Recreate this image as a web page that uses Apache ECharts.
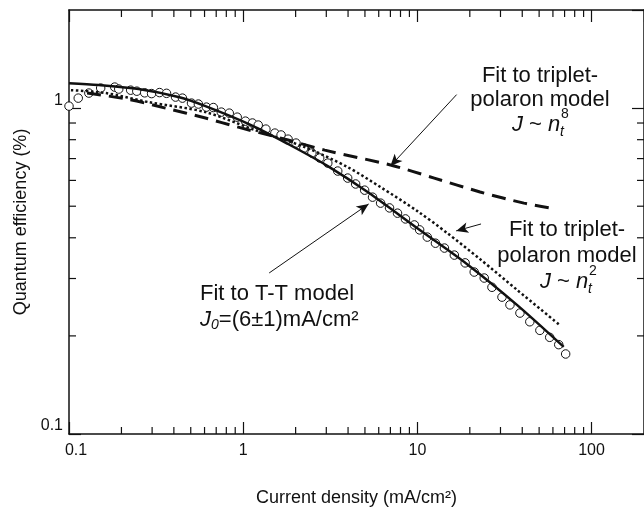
<!DOCTYPE html>
<html><head><meta charset="utf-8">
<script src="https://cdn.jsdelivr.net/npm/echarts@6/dist/echarts.min.js"></script>
<style>html,body{margin:0;padding:0;background:#fff}#c{width:644px;height:514px}</style>
</head><body><div id="c"></div>
<script>
// ---- data ----
const measuredJ = [0.1, 0.113, 0.130, 0.152, 0.183, 0.193, 0.226, 0.245, 0.272, 0.298, 0.331, 0.363, 0.409, 0.448, 0.505, 0.553, 0.615, 0.674, 0.749, 0.832, 0.924, 1.03, 1.13, 1.22, 1.35, 1.52, 1.65, 1.81, 2.01, 2.23, 2.48, 2.75, 3.06, 3.49, 3.98, 4.42, 4.98, 5.53, 6.15, 6.92, 7.69, 8.54, 9.61, 10.3, 11.4, 12.7, 14.3, 16.3, 18.8, 21.2, 24.2, 26.8, 30.6, 34.0, 38.8, 44.2, 50.5, 57.5, 64.8, 71.0];
const measuredEQE = [1.014, 1.073, 1.112, 1.152, 1.160, 1.144, 1.135, 1.127, 1.114, 1.108, 1.116, 1.110, 1.081, 1.073, 1.036, 1.029, 1.007, 1.004, 0.972, 0.965, 0.938, 0.912, 0.900, 0.887, 0.862, 0.838, 0.827, 0.803, 0.781, 0.754, 0.728, 0.703, 0.678, 0.641, 0.610, 0.585, 0.560, 0.533, 0.511, 0.494, 0.476, 0.457, 0.438, 0.423, 0.402, 0.385, 0.372, 0.354, 0.335, 0.314, 0.301, 0.282, 0.263, 0.249, 0.235, 0.221, 0.208, 0.198, 0.188, 0.176];

const ttFitJ   = [0.1, 0.148, 0.251, 0.425, 0.607, 1.11, 1.81, 3.06, 5.18, 10, 19.3, 37.3, 69.2];
const ttFitEQE = [1.193, 1.177, 1.144, 1.081, 1.014, 0.887, 0.776, 0.664, 0.553, 0.428, 0.332, 0.249, 0.185];

const n2FitJ   = [0.1026, 0.163, 0.287, 0.607, 1.17, 2.26, 3.98, 6.15, 10, 14.8, 22.9, 37.3, 65.6];
const n2FitEQE = [1.135, 1.112, 1.043, 0.972, 0.856, 0.759, 0.659, 0.572, 0.483, 0.414, 0.344, 0.277, 0.216];

const n8FitJ   = [0.127, 0.215, 0.358, 0.607, 0.936, 1.81, 2.94, 7.01, 12.5, 22.9, 40.9, 57.5];
const n8FitEQE = [1.112, 1.066, 1.0, 0.932, 0.874, 0.798, 0.743, 0.669, 0.610, 0.553, 0.511, 0.494];

const xRange = [0.1, 200];
const yRange = [0.1, 2];
const xMajorTicks = [0.1, 1, 10, 100];
const yMajorTicks = [0.1, 1];
const xMinorTicks = [0.2,0.3,0.4,0.5,0.6,0.7,0.8,0.9, 2,3,4,5,6,7,8,9, 20,30,40,50,60,70,80,90];
const yMinorTicks = [0.2,0.3,0.4,0.5,0.6,0.7,0.8,0.9];

// arrows: [start J, start EQE, end J, end EQE]
const arrowN8 = [16.8, 1.10, 7.0, 0.664];
const arrowN2 = [23.2, 0.441, 16.7, 0.420];
const arrowTT = [1.41, 0.312, 5.25, 0.508];

// ---- chart ----
const FONT = '"Liberation Sans", Arial, Helvetica, sans-serif';
const INK = '#111';
const chart = echarts.init(document.getElementById('c'), null, {renderer: 'canvas'});
const zip = (a, b) => a.map((v, i) => [v, b[i]]);
function isMajor(v, list) { return list.some(m => Math.abs(Math.log10(v) - Math.log10(m)) < 1e-6); }
function fmtX(v) {
  if (!isMajor(v, xMajorTicks)) return '';
  const s = String(+(+v).toPrecision(3));
  return Math.abs(v - xRange[0]) < 1e-9 ? '{first|' + s + '}' : s;
}
function fmtY(v) { return isMajor(v, yMajorTicks) ? String(+(+v).toPrecision(3)) : ''; }

const MINOR = 7;
function minorX(params, api) {
  const v = api.value(0);
  const b = api.coord([v, yRange[0]]), t = api.coord([v, yRange[1]]);
  const st = {stroke: INK, lineWidth: 1.2};
  return {type: 'group', children: [
    {type: 'line', shape: {x1: b[0], y1: b[1], x2: b[0], y2: b[1] - MINOR}, style: st},
    {type: 'line', shape: {x1: t[0], y1: t[1], x2: t[0], y2: t[1] + MINOR}, style: st}
  ]};
}
function minorY(params, api) {
  const v = api.value(1);
  const l = api.coord([xRange[0], v]), r = api.coord([xRange[1], v]);
  const st = {stroke: INK, lineWidth: 1.2};
  return {type: 'group', children: [
    {type: 'line', shape: {x1: l[0], y1: l[1], x2: l[0] + MINOR, y2: l[1]}, style: st},
    {type: 'line', shape: {x1: r[0], y1: r[1], x2: r[0] - MINOR, y2: r[1]}, style: st}
  ]};
}
function arrow(a) {
  return [{coord: [a[0], a[1]]}, {coord: [a[2], a[3]]}];
}

const axisCommon = {
  type: 'log', logBase: 10,
  axisLine: {show: true, lineStyle: {color: INK, width: 1.5}},
  axisTick: {show: true, inside: true, length: 12, lineStyle: {color: INK, width: 1.2}},
  splitLine: {show: false}, minorTick: {show: false}
};

const FS = 22;
const txt = (x, y, text, extra) => ({type: 'text', x, y, silent: true,
  style: Object.assign({text, fontSize: FS, fontFamily: FONT, fill: INK, align: 'center', verticalAlign: 'middle'}, extra || {})});
const italicRich = {i: {fontStyle: 'italic', fontSize: FS, fontFamily: FONT}};

chart.setOption({
  animation: false,
  backgroundColor: '#fff',
  grid: {left: 69, top: 10, width: 578, height: 424, containLabel: false},
  xAxis: [
    Object.assign({}, axisCommon, {min: xRange[0], max: xRange[1], position: 'bottom',
      axisLabel: {formatter: fmtX, fontSize: 16, color: INK, fontFamily: FONT, margin: 9, showMaxLabel: false,
        rich: {first: {fontSize: 16, fontFamily: FONT, color: INK, padding: [0, 0, 0, 14]}}},
      name: 'Current density (mA/cm²)', nameLocation: 'middle', nameGap: 55,
      nameTextStyle: {fontSize: 18, color: INK, fontFamily: FONT}}),
    Object.assign({}, axisCommon, {min: xRange[0], max: xRange[1], position: 'top', axisLabel: {show: false}})
  ],
  yAxis: [
    Object.assign({}, axisCommon, {min: yRange[0], max: yRange[1], position: 'left',
      axisLabel: {formatter: fmtY, fontSize: 16, color: INK, fontFamily: FONT, margin: 6, verticalAlign: 'bottom', showMaxLabel: false},
      name: 'Quantum efficiency (%)', nameLocation: 'middle', nameGap: 37, nameRotate: 90,
      nameTextStyle: {fontSize: 18, color: INK, fontFamily: FONT}}),
    Object.assign({}, axisCommon, {min: yRange[0], max: yRange[1], position: 'right', axisLabel: {show: false}})
  ],
  series: [
    {type: 'custom', name: 'xminor', renderItem: minorX, data: xMinorTicks.map(v => [v, yRange[0]]), clip: false, silent: true, z: 1},
    {type: 'custom', name: 'yminor', renderItem: minorY, data: yMinorTicks.map(v => [xRange[0], v]), clip: false, silent: true, z: 1},
    {type: 'scatter', name: 'measured', data: zip(measuredJ, measuredEQE), symbol: 'circle', symbolSize: 8.5,
      itemStyle: {color: '#fff', borderColor: INK, borderWidth: 1, opacity: 1}, z: 2, silent: true},
    {type: 'line', name: 'n8', data: zip(n8FitJ, n8FitEQE), showSymbol: false, smooth: 0.3, z: 3, silent: true,
      lineStyle: {color: INK, width: 3, type: [14, 8]},
      markLine: {silent: true, symbol: ['none', 'arrow'], symbolSize: [8, 12], label: {show: false},
        lineStyle: {color: INK, width: 1, type: 'solid'},
        data: [arrow(arrowN8), arrow(arrowN2), arrow(arrowTT)]}},
    {type: 'line', name: 'n2', data: zip(n2FitJ, n2FitEQE), showSymbol: false, smooth: 0.3, z: 3, silent: true,
      lineStyle: {color: INK, width: 2.5, type: [2.5, 2.5]}},
    {type: 'line', name: 'tt', data: zip(ttFitJ, ttFitEQE), showSymbol: false, smooth: 0.3, z: 4, silent: true,
      lineStyle: {color: INK, width: 2.5, type: 'solid'}}
  ],
  graphic: [
    txt(540, 76, 'Fit to triplet-'),
    txt(540, 100, 'polaron model'),
    txt(512, 125, '{i|J} ~ {i|n}', {align: 'left', rich: italicRich}),
    txt(560, 132, 't', {align: 'left', fontSize: 14, fontStyle: 'italic'}),
    txt(561, 114, '8', {align: 'left', fontSize: 14}),

    txt(567, 230, 'Fit to triplet-'),
    txt(567, 256, 'polaron model'),
    txt(540, 282, '{i|J} ~ {i|n}', {align: 'left', rich: italicRich}),
    txt(588, 289, 't', {align: 'left', fontSize: 14, fontStyle: 'italic'}),
    txt(589, 271, '2', {align: 'left', fontSize: 14}),

    txt(200, 294, 'Fit to T-T model', {align: 'left'}),
    txt(200, 320, '{i|J}{s|0}=(6±1)mA/cm²', {align: 'left', rich: {
      i: {fontStyle: 'italic', fontSize: FS, fontFamily: FONT},
      s: {fontStyle: 'italic', fontSize: 14, fontFamily: FONT, padding: [10, 0, 0, 0]}}})
  ]
});
</script></body></html>
